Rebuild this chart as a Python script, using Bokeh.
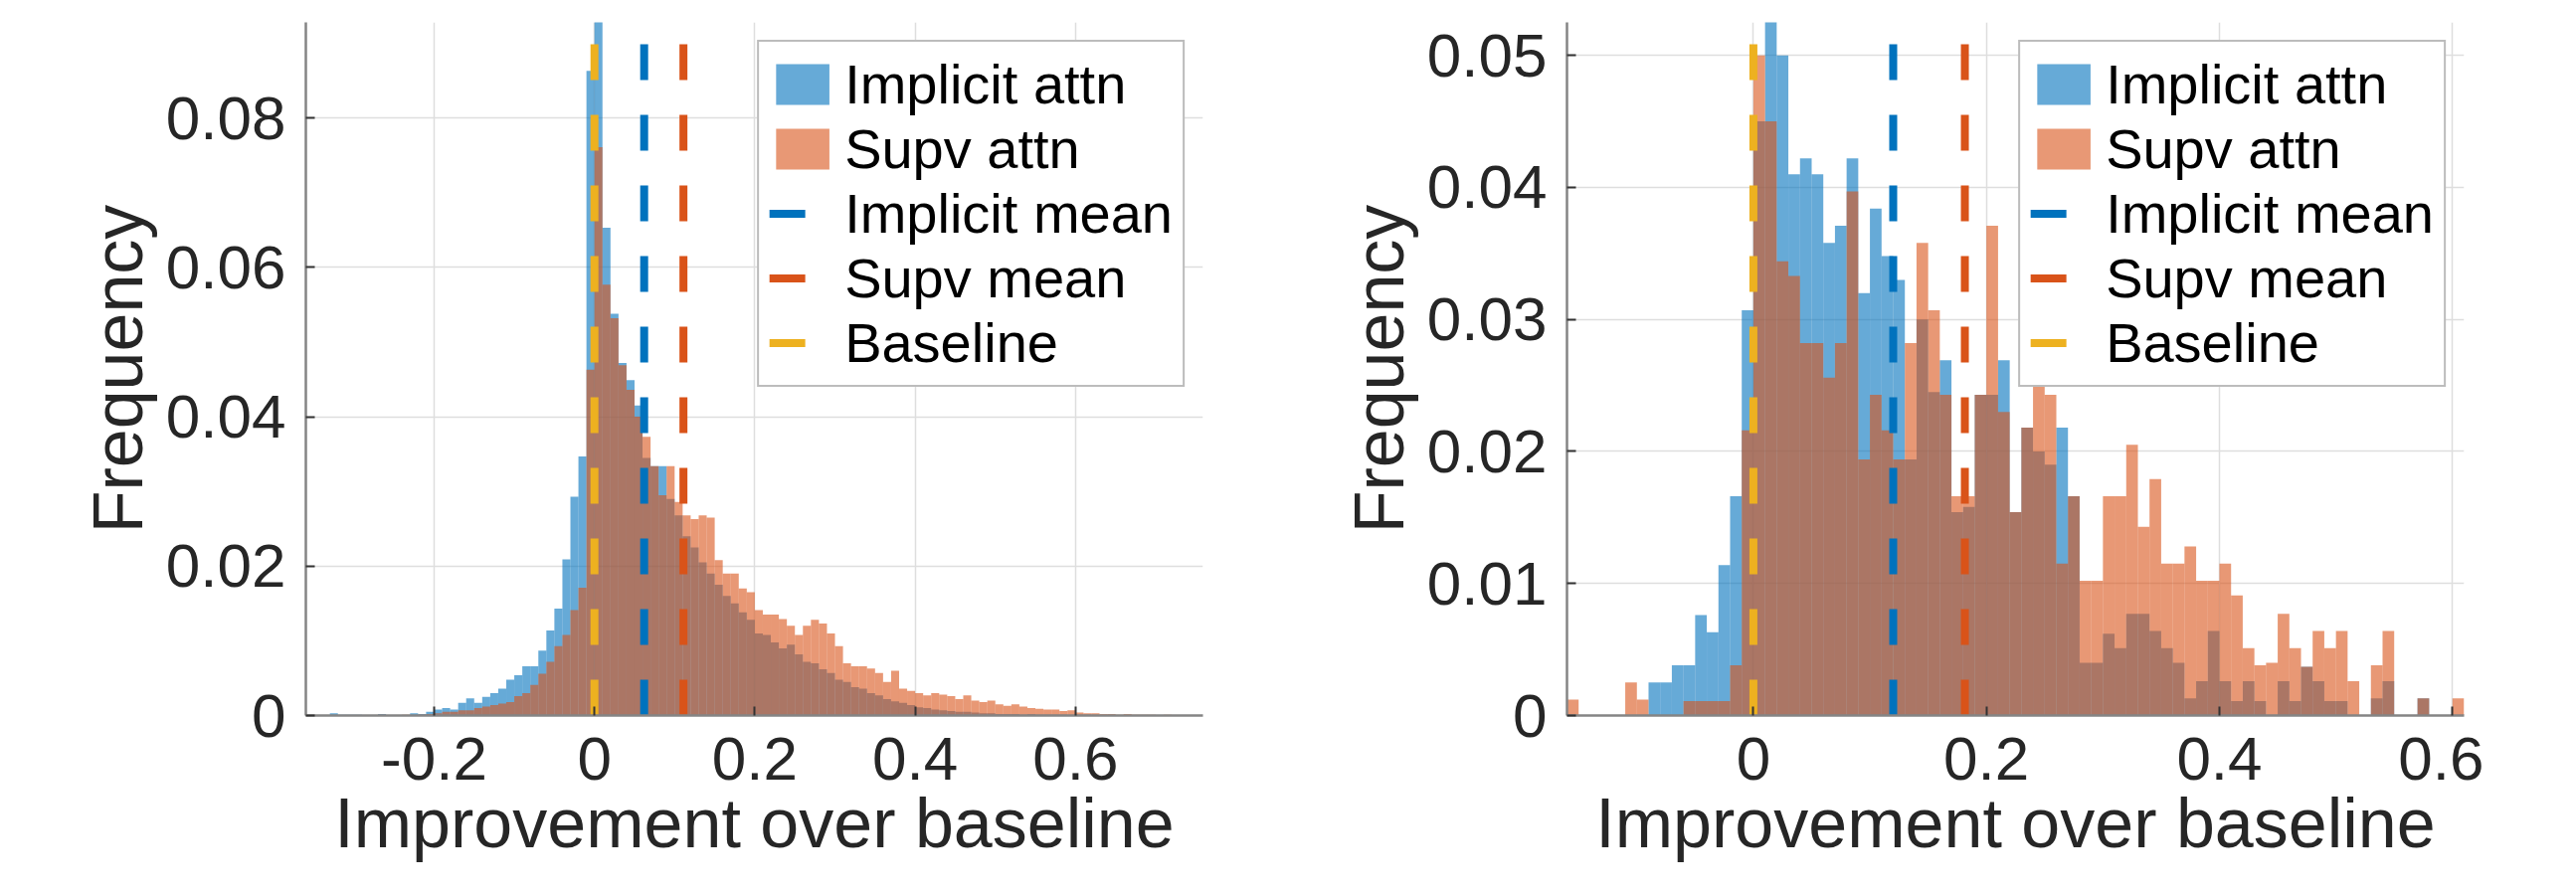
import numpy as np
from bokeh.plotting import figure
from bokeh.layouts import row
from bokeh.models import Range1d, FixedTicker, Legend, LegendItem
from bokeh.embed import file_html
from bokeh.resources import INLINE

# ---------------- data ----------------
bin_width = 0.01

# left panel: bins starting at -0.36, width 0.01 (probability per bin)
left_bin_start = -0.36
left_implicit = [
    0, 0, 0, 0.0003, 0.0001, 0.0001, 0.0001, 0, 0, 0.0002, 0, 0, 0, 0.0003, 0.0002, 0.0005,
    0.0008, 0.0010, 0.0008, 0.0017, 0.0023, 0.0017, 0.0025,
    0.0030, 0.0036, 0.0048, 0.0054, 0.0066, 0.0066, 0.0087, 0.0114, 0.0143, 0.0209, 0.0293, 0.0347, 0.0863,
    0.0935,
    0.0653, 0.0538, 0.0472, 0.0449, 0.0415, 0.0345, 0.0334, 0.0334, 0.0290,
    0.0268, 0.0240, 0.0225, 0.0205, 0.0190, 0.0175, 0.0160, 0.0150, 0.0138, 0.0128, 0.0110,
    0.0108, 0.0098, 0.0090, 0.0095, 0.0082, 0.0072, 0.0070, 0.0062, 0.0057, 0.0048,
    0.0045, 0.0038, 0.0036, 0.0030, 0.0027, 0.0022, 0.0019, 0.0017, 0.0014, 0.0011,
    0.0010, 0.0008, 0.0007, 0.0006, 0.0005, 0.0005, 0.0004, 0.0003, 0.0003, 0.0002,
    0.0002, 0.0002, 0.0001, 0.0002, 0.0001, 0.0001, 0.0001, 0.0001, 0, 0.0001,
    0.0001, 0, 0, 0.0001, 0, 0, 0, 0, 0, 0, 0, 0, 0, 0, 0,
]
left_supv = [
    0, 0, 0, 0, 0, 0, 0, 0, 0, 0.0001, 0, 0, 0.0001, 0, 0.0001, 0.0002,
    0.0003, 0.0005, 0.0005, 0.0007, 0.0007, 0.0010, 0.0012,
    0.0014, 0.0016, 0.0018, 0.0026, 0.0030, 0.0041, 0.0056, 0.0072, 0.0093, 0.0108, 0.0141, 0.0171, 0.0463,
    0.0761,
    0.0577, 0.0532, 0.0469, 0.0436, 0.0400, 0.0373, 0.0334, 0.0295, 0.0334,
    0.0286, 0.0268, 0.0263, 0.0268, 0.0265, 0.0208, 0.0190, 0.0190, 0.0170, 0.0165, 0.0141,
    0.0135, 0.0135, 0.0129, 0.0120, 0.0108, 0.0120, 0.0128, 0.0123, 0.0110, 0.0093,
    0.0070, 0.0066, 0.0066, 0.0063, 0.0057, 0.0045, 0.0060, 0.0036, 0.0033, 0.0030,
    0.0027, 0.0030, 0.0028, 0.0026, 0.0022, 0.0027, 0.0020, 0.0018, 0.0020, 0.0015,
    0.0013, 0.0015, 0.0012, 0.0010, 0.0009, 0.0008, 0.0008, 0.0006, 0.0007, 0.0004,
    0.0003, 0.0003, 0.0002, 0.0002, 0.0001, 0.0002, 0.0001, 0.0001, 0.0001, 0, 0.0001, 0, 0, 0, 0,
]
left_implicit_mean = 0.062
left_supv_mean = 0.111
baseline = 0.0

# right panel: bins starting at -0.16, width 0.01
right_bin_start = -0.16
right_implicit = [
    0, 0, 0, 0, 0, 0, 0,
    0.0025, 0.0025, 0.0038, 0.0038, 0.0076, 0.0063, 0.0114, 0.0166, 0.0307,
    0.0450, 0.0530, 0.0500, 0.0410, 0.0422, 0.0410, 0.0358, 0.0371, 0.0422, 0.0320, 0.0384, 0.0348, 0.0330,
    0.0194, 0.0300, 0.0245, 0.0269, 0.0154, 0.0158, 0.0243, 0.0243, 0.0269, 0.0154, 0.0218, 0.0200, 0.0190, 0.0218, 0.0166,
    0.0040, 0.0040, 0.0062, 0.0051, 0.0077, 0.0077, 0.0064, 0.0051, 0.0040, 0.0013, 0.0026, 0.0064, 0.0026, 0.0011, 0.0026, 0.0011, 0,
    0.0026, 0.0011, 0.0037, 0.0026, 0.0011, 0.0011, 0, 0, 0.0013, 0.0026, 0, 0, 0.0013, 0, 0, 0,
]
right_supv = [
    0.0012, 0, 0, 0, 0, 0.0025, 0.0012,
    0, 0, 0, 0.0011, 0.0011, 0.0011, 0.0011, 0.0038, 0.0216,
    0.0500, 0.0450, 0.0344, 0.0333, 0.0282, 0.0282, 0.0256, 0.0282, 0.0397, 0.0194, 0.0243, 0.0216, 0.0194,
    0.0282, 0.0358, 0.0307, 0.0243, 0.0166, 0.0166, 0.0243, 0.0371, 0.0230, 0.0154, 0.0218, 0.0256, 0.0243, 0.0115, 0.0166,
    0.0102, 0.0102, 0.0166, 0.0166, 0.0205, 0.0143, 0.0179, 0.0115, 0.0115, 0.0128, 0.0102, 0.0102, 0.0115, 0.0091, 0.0051, 0.0038, 0.0040,
    0.0077, 0.0051, 0.0037, 0.0064, 0.0051, 0.0064, 0.0026, 0, 0.0038, 0.0064, 0, 0, 0.0013, 0, 0, 0.0013,
]
right_implicit_mean = 0.120
right_supv_mean = 0.1815

series_labels = ["Implicit attn", "Supv attn", "Implicit mean", "Supv mean", "Baseline"]
x_axis_label = "Improvement over baseline"
y_axis_label = "Frequency"

left_xticks = [-0.2, 0, 0.2, 0.4, 0.6]
left_xtick_labels = ["-0.2", "0", "0.2", "0.4", "0.6"]
left_yticks = [0, 0.02, 0.04, 0.06, 0.08]
left_ytick_labels = ["0", "0.02", "0.04", "0.06", "0.08"]
right_xticks = [0, 0.2, 0.4, 0.6]
right_xtick_labels = ["0", "0.2", "0.4", "0.6"]
right_yticks = [0, 0.01, 0.02, 0.03, 0.04, 0.05]
right_ytick_labels = ["0", "0.01", "0.02", "0.03", "0.04", "0.05"]

left_xrange = (-0.36, 0.759)
left_yrange = (0, 0.0928)
right_xrange = (-0.16, 0.61)
right_yrange = (0, 0.0525)

# ---------------- styling ----------------
FONT = "Liberation Sans"
C_BLUE = "#0072BD"
C_ORANGE = "#D95319"
C_YELLOW = "#EDB120"
TXT = "#262626"


def make_panel(bin_start, implicit, supv, imp_mean, sup_mean, xr, yr,
               xticks, xlabels, yticks, ylabels, border_left, border_right):
    n = len(implicit)
    lefts = np.round(bin_start + np.arange(n) * bin_width, 4)
    rights = lefts + bin_width
    p = figure(frame_width=902, frame_height=697,
               x_range=Range1d(*xr), y_range=Range1d(*yr),
               output_backend="svg", toolbar_location=None,
               min_border_left=border_left, min_border_right=border_right,
               min_border_top=22, min_border_bottom=0)
    p.outline_line_color = None
    p.background_fill_color = "white"

    r_imp = p.quad(left=lefts, right=rights, bottom=0, top=implicit,
                   fill_color=C_BLUE, fill_alpha=0.6, line_color=None)
    r_sup = p.quad(left=lefts, right=rights, bottom=0, top=supv,
                   fill_color=C_ORANGE, fill_alpha=0.6, line_color=None)

    ytop = yr[1]
    dash = "36 35"
    r_imean = p.line([imp_mean, imp_mean], [0, ytop], line_color=C_BLUE,
                     line_width=8, line_dash=dash)
    r_smean = p.line([sup_mean, sup_mean], [0, ytop], line_color=C_ORANGE,
                     line_width=8, line_dash=dash)
    r_base = p.line([baseline, baseline], [0, ytop], line_color=C_YELLOW,
                    line_width=8, line_dash=dash)

    # axes
    p.xaxis.ticker = FixedTicker(ticks=xticks)
    p.yaxis.ticker = FixedTicker(ticks=yticks)
    p.xaxis.major_label_overrides = dict(zip(xticks, xlabels))
    p.yaxis.major_label_overrides = dict(zip(yticks, ylabels))
    for ax in (p.xaxis, p.yaxis):
        ax.axis_line_color = "#858585"
        ax.axis_line_width = 2.5
        ax.major_tick_in = 9
        ax.major_tick_out = 0
        ax.major_tick_line_color = "#333333"
        ax.major_tick_line_width = 2
        ax.minor_tick_line_color = None
        ax.major_label_text_font = FONT
        ax.major_label_text_font_size = "62px"
        ax.major_label_text_color = TXT
        ax.axis_label_text_font = FONT
        ax.axis_label_text_font_size = "70px"
        ax.axis_label_text_color = TXT
        ax.axis_label_text_font_style = "normal"
    p.xaxis.axis_label = x_axis_label
    p.yaxis.axis_label = y_axis_label
    p.xaxis.major_label_standoff = 22
    p.xaxis.axis_label_standoff = 2
    p.yaxis.major_label_standoff = 20
    p.yaxis.axis_label_standoff = 6

    p.xgrid.ticker = FixedTicker(ticks=xticks)
    p.ygrid.ticker = FixedTicker(ticks=yticks)
    for g in (p.xgrid, p.ygrid):
        g.grid_line_color = "#dedede"
        g.grid_line_width = 1.5

    legend = Legend(items=[
        LegendItem(label=series_labels[0], renderers=[r_imp]),
        LegendItem(label=series_labels[1], renderers=[r_sup]),
        LegendItem(label=series_labels[2], renderers=[r_imean]),
        LegendItem(label=series_labels[3], renderers=[r_smean]),
        LegendItem(label=series_labels[4], renderers=[r_base]),
    ], location="top_right")
    legend.margin = 18
    legend.padding = 10
    legend.spacing = 0
    legend.glyph_width = 67
    legend.glyph_height = 51
    legend.label_standoff = 9
    legend.label_text_font = FONT
    legend.label_text_font_size = "56px"
    legend.label_text_color = "black"
    legend.border_line_color = "#7a7a7a"
    legend.border_line_width = 2.5
    legend.background_fill_color = "white"
    legend.background_fill_alpha = 1.0
    p.add_layout(legend)
    return p


p1 = make_panel(left_bin_start, left_implicit, left_supv, left_implicit_mean,
                left_supv_mean, left_xrange, left_yrange, left_xticks,
                left_xtick_labels, left_yticks, left_ytick_labels, 307, 20)
p2 = make_panel(right_bin_start, right_implicit, right_supv, right_implicit_mean,
                right_supv_mean, right_xrange, right_yrange, right_xticks,
                right_xtick_labels, right_yticks, right_ytick_labels, 346, 20)

layout = row(p1, p2)
open("out.html", "w").write(file_html(layout, INLINE))
